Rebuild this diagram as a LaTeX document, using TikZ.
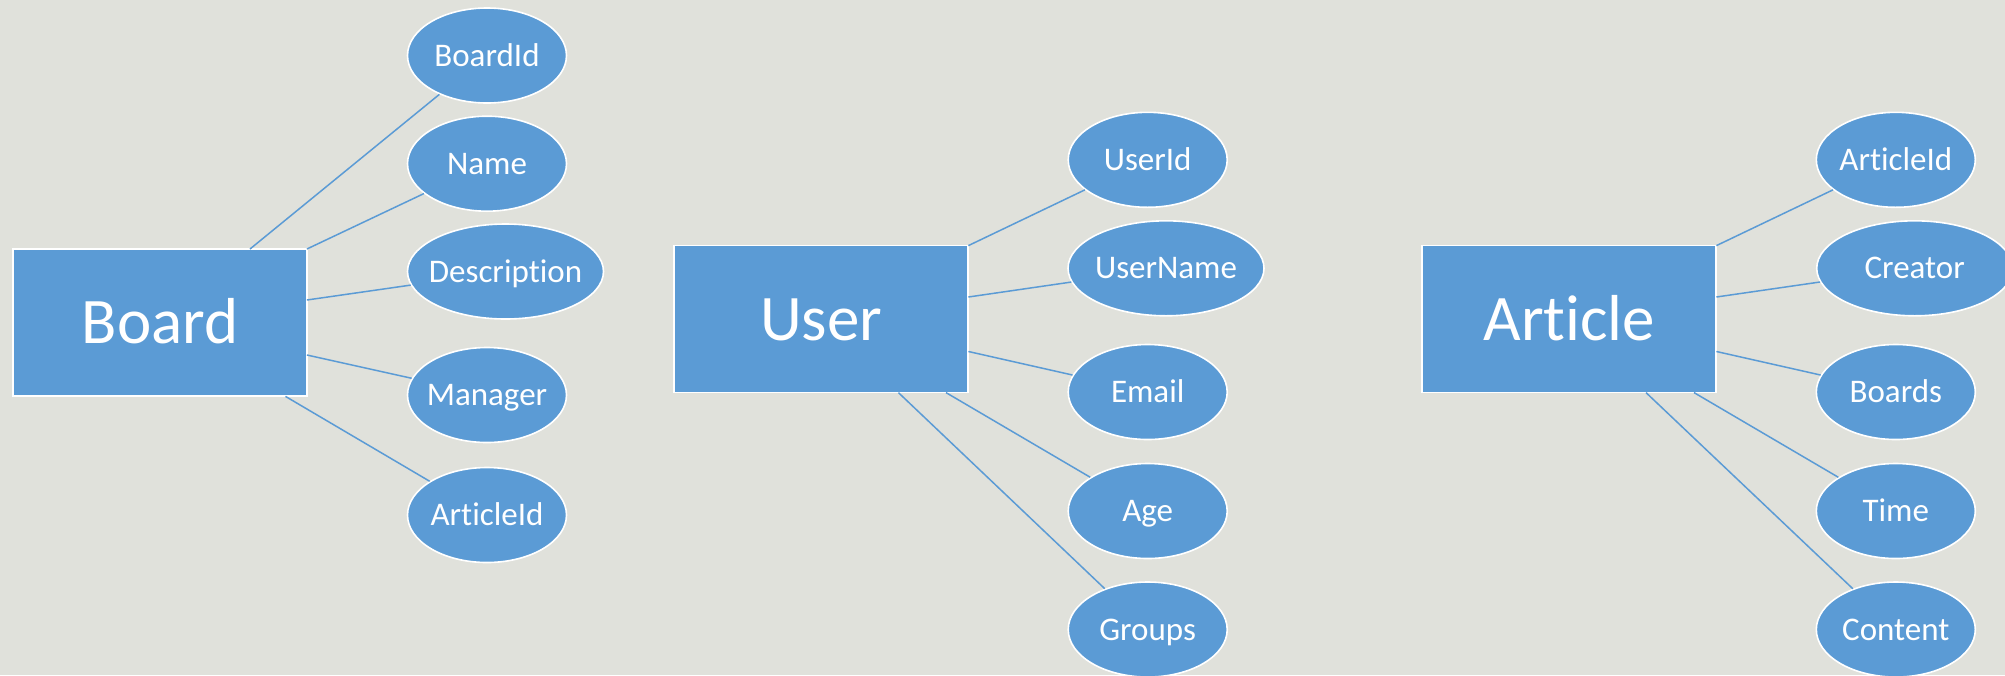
\documentclass[tikz,border=0pt]{standalone}
\usepackage{fontspec}
\setmainfont[Ligatures=NoCommon,RawFeature=-liga]{Carlito}
\usetikzlibrary{shapes.geometric}
\definecolor{bg}{HTML}{E0E1DB}
\definecolor{office}{HTML}{5B9BD5}
\begin{document}
\begin{tikzpicture}[x=0.5pt,y=-0.5pt,
 entity/.style={rectangle, fill=office, draw=white, line width=0.8pt, minimum width=147pt, minimum height=73.5pt, inner sep=0pt, text=white, font=\fontsize{32.5}{36}\selectfont, text height=20.9pt, text depth=0pt},
 attr/.style={ellipse, fill=office, draw=white, line width=0.8pt, minimum width=79.5pt, minimum height=47.5pt, inner sep=0pt, text=white, font=\fontsize{16.5}{19}\selectfont, text height=10.6pt, text depth=0pt},
 wide/.style={attr, minimum width=98pt},
 link/.style={draw=office, line width=0.75pt}]
\fill[bg] (0,0) rectangle (2005,675);
\useasboundingbox (0,0) rectangle (2005,675);
% entities
\node[entity] (board) at (160,322.7) {Board};
\node[entity] (user) at (821.2,319.1) {User};
\node[entity] (article) at (1569.2,319.1) {Article};
% Board attributes
\node[attr] (boardid) at (487,55.5) {\makebox[0pt]{BoardId}};
\node[attr] (name) at (487,163.7) {\makebox[0pt]{Name}};
\node[wide] (desc) at (505.5,271.5) {\makebox[0pt]{Description}};
\node[attr] (manager) at (487,395) {\makebox[0pt]{Manager}};
\node[attr] (barticleid) at (487,515) {\makebox[0pt]{ArticleId}};
% User attributes
\node[attr] (userid) at (1147.7,159.8) {\makebox[0pt]{UserId}};
\node[wide] (username) at (1166,268.3) {\makebox[0pt]{UserName}};
\node[attr] (email) at (1147.7,392) {\makebox[0pt]{Email}};
\node[attr] (age) at (1147.7,511) {\makebox[0pt]{Age}};
\node[attr] (groups) at (1147.7,629.5) {\makebox[0pt]{Groups}};
% Article attributes
\node[attr] (articleid) at (1895.8,159.8) {\makebox[0pt]{ArticleId}};
\node[wide] (creator) at (1914.7,268.3) {\makebox[0pt]{Creator}};
\node[attr] (boards) at (1895.8,392) {\makebox[0pt]{Boards}};
\node[attr] (time) at (1895.8,511) {\makebox[0pt]{Time}};
\node[attr] (content) at (1895.8,629.5) {\makebox[0pt]{Content}};
% connector start points on the rectangles
\coordinate (b1) at (250,249);
\coordinate (b2) at (306.9,249);
\coordinate (b3) at (306.9,300);
\coordinate (b4) at (306.9,355);
\coordinate (b5) at (285.5,396.4);
\coordinate (u1) at (968.4,245.6);
\coordinate (u2) at (968.4,297);
\coordinate (u3) at (968.4,351.5);
\coordinate (u4) at (946,392.6);
\coordinate (u5) at (898.4,392.6);
\coordinate (a1) at (1716.4,245.6);
\coordinate (a2) at (1716.4,297);
\coordinate (a3) at (1716.4,351.5);
\coordinate (a4) at (1694,392.6);
\coordinate (a5) at (1646,392.6);
% connectors
\draw[link] (b1) -- (boardid);
\draw[link] (b2) -- (name);
\draw[link] (b3) -- (desc);
\draw[link] (b4) -- (manager);
\draw[link] (b5) -- (barticleid);
\draw[link] (u1) -- (userid);
\draw[link] (u2) -- (username);
\draw[link] (u3) -- (email);
\draw[link] (u4) -- (age);
\draw[link] (u5) -- (groups);
\draw[link] (a1) -- (articleid);
\draw[link] (a2) -- (creator);
\draw[link] (a3) -- (boards);
\draw[link] (a4) -- (time);
\draw[link] (a5) -- (content);
\end{tikzpicture}
\end{document}
